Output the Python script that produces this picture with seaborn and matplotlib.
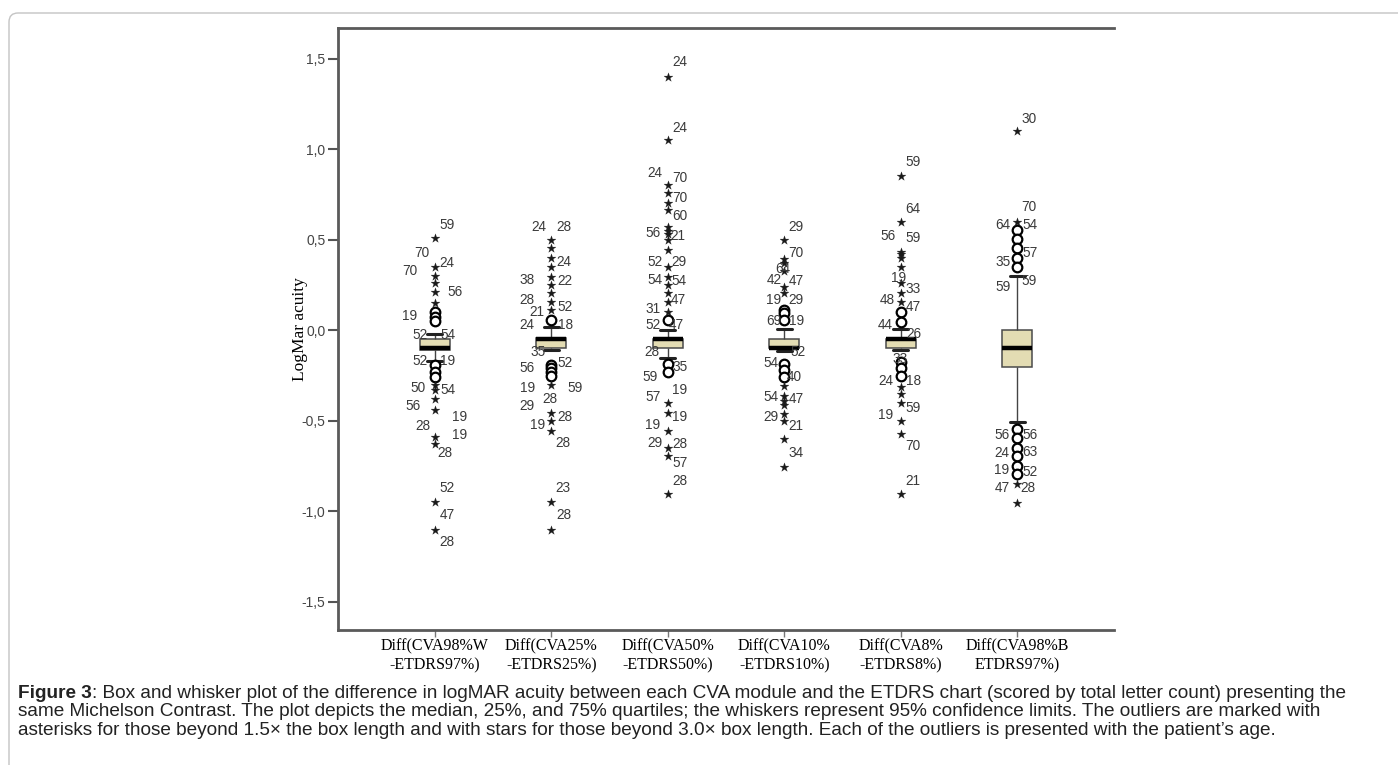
import numpy as np
import pandas as pd
import matplotlib.pyplot as plt
import matplotlib.transforms as mtransforms
from matplotlib.patches import FancyBboxPatch
import seaborn as sns

# --- data ---
groups = ["Diff(CVA98%W\n-ETDRS97%)", "Diff(CVA25%\n-ETDRS25%)", "Diff(CVA50%\n-ETDRS50%)",
          "Diff(CVA10%\n-ETDRS10%)", "Diff(CVA8%\n-ETDRS8%)", "Diff(CVA98%B\nETDRS97%)"]

whisker_low = [-0.17, -0.11, -0.15, -0.115, -0.11, -0.505]
q1 = [-0.11, -0.10, -0.095, -0.10, -0.10, -0.205]
median = [-0.10, -0.045, -0.05, -0.095, -0.05, -0.10]
q3 = [-0.05, -0.04, -0.045, -0.045, -0.045, 0.0]
whisker_high = [-0.02, 0.02, 0.0, 0.01, 0.01, 0.30]

# extreme outliers (stars)
stars = [
    [0.51, 0.35, 0.30, 0.26, 0.21, 0.15, -0.30, -0.33, -0.38, -0.44, -0.59, -0.63, -0.95, -1.10],
    [0.50, 0.455, 0.40, 0.35, 0.295, 0.25, 0.205, 0.155, 0.11, -0.30, -0.455, -0.50, -0.555, -0.95, -1.10],
    [1.40, 1.05, 0.805, 0.76, 0.705, 0.665, 0.57, 0.55, 0.53, 0.50, 0.445, 0.35, 0.295, 0.25, 0.205,
     0.155, 0.10, -0.40, -0.455, -0.555, -0.65, -0.695, -0.905],
    [0.50, 0.395, 0.37, 0.33, 0.24, 0.205, -0.305, -0.36, -0.39, -0.415, -0.46, -0.50, -0.60, -0.755],
    [0.85, 0.60, 0.435, 0.42, 0.40, 0.35, 0.26, 0.205, 0.155, -0.315, -0.35, -0.40, -0.50, -0.575, -0.905],
    [1.10, 0.60, -0.85, -0.955],
]
# mild outliers (circles)
circles = [
    [0.10, 0.075, 0.05, -0.19, -0.23, -0.26],
    [0.055, -0.19, -0.21, -0.23, -0.25],
    [0.055, -0.185, -0.23],
    [0.11, 0.095, 0.055, -0.185, -0.22, -0.26],
    [0.10, 0.045, -0.175, -0.21, -0.25],
    [0.555, 0.505, 0.455, 0.40, 0.35, -0.545, -0.595, -0.65, -0.695, -0.75, -0.795],
]
# patient ages: (age, y, horizontal nudge in px)
ages = [
    [("59", 0.58, 12), ("70", 0.43, -13), ("24", 0.37, 12), ("70", 0.33, -25), ("56", 0.21, 20),
     ("19", 0.08, -25), ("52", -0.025, -15), ("54", -0.025, 13), ("52", -0.17, -15), ("19", -0.17, 13),
     ("50", -0.32, -17), ("54", -0.33, 13), ("56", -0.42, -22), ("19", -0.48, 25), ("28", -0.53, -12),
     ("19", -0.58, 25), ("28", -0.68, 10), ("52", -0.87, 12), ("47", -1.02, 12), ("28", -1.17, 12)],
    [("24", 0.57, -13), ("28", 0.57, 13), ("24", 0.38, 12), ("38", 0.28, -24), ("22", 0.27, 13),
     ("28", 0.17, -24), ("52", 0.13, 14), ("21", 0.10, -15), ("24", 0.03, -25), ("18", 0.03, 14),
     ("35", -0.12, -13), ("52", -0.18, 14), ("56", -0.21, -24), ("19", -0.32, -24), ("59", -0.32, 24),
     ("28", -0.38, -1), ("29", -0.42, -24), ("28", -0.48, 14), ("19", -0.52, -14), ("28", -0.62, 12),
     ("23", -0.87, 12), ("28", -1.02, 13)],
    [("24", 1.48, 12), ("24", 1.12, 12), ("24", 0.87, -13), ("70", 0.84, 12), ("70", 0.73, 12),
     ("60", 0.63, 12), ("56", 0.54, -15), ("21", 0.52, 10), ("52", 0.38, -13), ("29", 0.38, 11),
     ("54", 0.28, -13), ("54", 0.27, 11), ("47", 0.17, 11), ("31", 0.12, -15), ("52", 0.03, -15),
     ("47", 0.03, 9), ("28", -0.12, -16), ("35", -0.20, 12), ("59", -0.26, -18), ("19", -0.33, 12),
     ("57", -0.37, -15), ("19", -0.48, 12), ("19", -0.52, -15), ("29", -0.62, -13), ("28", -0.63, 12),
     ("57", -0.73, 12), ("28", -0.83, 12)],
    [("29", 0.57, 12), ("70", 0.43, 12), ("64", 0.34, -1), ("42", 0.28, -10), ("47", 0.27, 12),
     ("19", 0.17, -11), ("29", 0.17, 12), ("69", 0.05, -10), ("19", 0.05, 12), ("52", -0.12, 14),
     ("54", -0.18, -13), ("40", -0.26, 10), ("54", -0.37, -13), ("47", -0.38, 12), ("29", -0.48, -13),
     ("21", -0.53, 12), ("34", -0.68, 12)],
    [("59", 0.93, 12), ("64", 0.67, 12), ("56", 0.52, -13), ("59", 0.51, 12), ("19", 0.29, -2),
     ("33", 0.23, 13), ("48", 0.17, -13), ("47", 0.13, 13), ("44", 0.03, -15), ("26", -0.02, 13),
     ("33", -0.16, 0), ("24", -0.28, -15), ("18", -0.28, 13), ("59", -0.43, 12), ("19", -0.47, -15),
     ("70", -0.64, 12), ("21", -0.83, 12)],
    [("30", 1.17, 12), ("70", 0.68, 12), ("64", 0.58, -14), ("54", 0.58, 13), ("57", 0.43, 13),
     ("35", 0.38, -14), ("59", 0.27, 12), ("59", 0.24, -14), ("56", -0.58, -15), ("56", -0.58, 13),
     ("24", -0.68, -15), ("63", -0.67, 13), ("19", -0.77, -15), ("52", -0.78, 13), ("47", -0.87, -15),
     ("28", -0.87, 11)],
]

y_ticks = [-1.5, -1.0, -0.5, 0.0, 0.5, 1.0, 1.5]
y_tick_labels = ["-1,5", "-1,0", "-0,5", "0,0", "0,5", "1,0", "1,5"]

caption_lines = [
    ": Box and whisker plot of the difference in logMAR acuity between each CVA module and the ETDRS chart (scored by total letter count) presenting the",
    "same Michelson Contrast. The plot depicts the median, 25%, and 75% quartiles; the whiskers represent 95% confidence limits. The outliers are marked with",
    "asterisks for those beyond 1.5\u00d7 the box length and with stars for those beyond 3.0\u00d7 box length. Each of the outliers is presented with the patient\u2019s age.",
]

# --- build frames ---
box_df = pd.DataFrame({
    "group": np.repeat(groups, 5),
    "value": np.column_stack([whisker_low, q1, median, q3, whisker_high]).ravel(),
})
star_df = pd.DataFrame([(i, v) for i, g in enumerate(stars) for v in g], columns=["pos", "value"])
circ_df = pd.DataFrame([(i, v) for i, g in enumerate(circles) for v in g], columns=["pos", "value"])

sns.set_style("white")
plt.rcParams["font.family"] = ["Liberation Sans", "DejaVu Sans"]

fig = plt.figure(figsize=(13.98, 7.65), dpi=100)
ax = fig.add_axes([338 / 1398, 1 - 630 / 765, 776 / 1398, 602 / 765])

sns.boxplot(data=box_df, x="group", y="value", order=groups, whis=np.inf, width=0.258,
            color="#e3dcb3", saturation=1, linecolor="#4a4a4a", linewidth=1.1,
            showfliers=False, ax=ax,
            medianprops={"linewidth": 3.2, "color": "black"},
            whiskerprops={"linewidth": 1.0, "color": "#444444"},
            capprops={"linewidth": 2.2, "color": "#222222"})

sns.scatterplot(data=circ_df, x="pos", y="value", marker="o", s=48, facecolor="white",
                edgecolor="black", linewidth=1.6, ax=ax, zorder=4, legend=False)
sns.scatterplot(data=star_df, x="pos", y="value", marker="*", s=45, color="#1a1a1a",
                edgecolor="#1a1a1a", linewidth=0.2, ax=ax, zorder=5, legend=False)

for i, lab in enumerate(ages):
    for age, y, dx in lab:
        ax.annotate(age, xy=(i, y), xytext=(dx, 0), textcoords="offset pixels",
                    ha="center", va="center", fontsize=9.8, color="#3a3a3a", zorder=6)

ax.set_xlim(-0.833, 5.833)
ax.set_ylim(-1.655, 1.67)
ax.set_yticks(y_ticks)
ax.set_yticklabels(y_tick_labels)
ax.set_xticks(range(len(groups)))
ax.set_xticklabels(groups, family=["Liberation Serif", "DejaVu Serif"], fontsize=11.5,
                   color="black", linespacing=1.25)
ax.tick_params(axis="y", direction="out", length=7, width=1.5, color="#555555",
               labelsize=10, labelcolor="#444444", pad=2, left=True)
ax.tick_params(axis="x", direction="out", length=5, width=1.0, color="#777777", pad=1, bottom=True)

ax.set_xlabel("")
ax.set_ylabel("LogMar acuity", family=["Liberation Serif", "DejaVu Serif"], fontsize=12.5, color="black")
ax.yaxis.set_label_coords(-0.039, 0.5)

ax.spines["right"].set_visible(False)
for s in ["left", "top", "bottom"]:
    ax.spines[s].set_color("#5a5a5a")
    ax.spines[s].set_linewidth(2)

# page frame
frame = FancyBboxPatch((9, -30), 1420, 765 - 13 + 30, boxstyle="round,pad=0,rounding_size=9",
                       transform=mtransforms.IdentityTransform(), facecolor="none",
                       edgecolor="#c4c4c4", linewidth=1.0)
fig.patches.append(frame)

# caption
cap_font = dict(fontsize=13.7, color="#222222")
head = fig.text(18 / 1398, 1 - 698 / 765, "Figure 3", fontweight="bold", va="baseline", **cap_font)
ax.annotate(caption_lines[0], xy=(1, 0), xycoords=head, va="bottom", annotation_clip=False, **cap_font)
fig.text(18 / 1398, 1 - 716.5 / 765, caption_lines[1], va="baseline", **cap_font)
fig.text(18 / 1398, 1 - 735 / 765, caption_lines[2], va="baseline", **cap_font)

fig.savefig("out.png", dpi=100)
